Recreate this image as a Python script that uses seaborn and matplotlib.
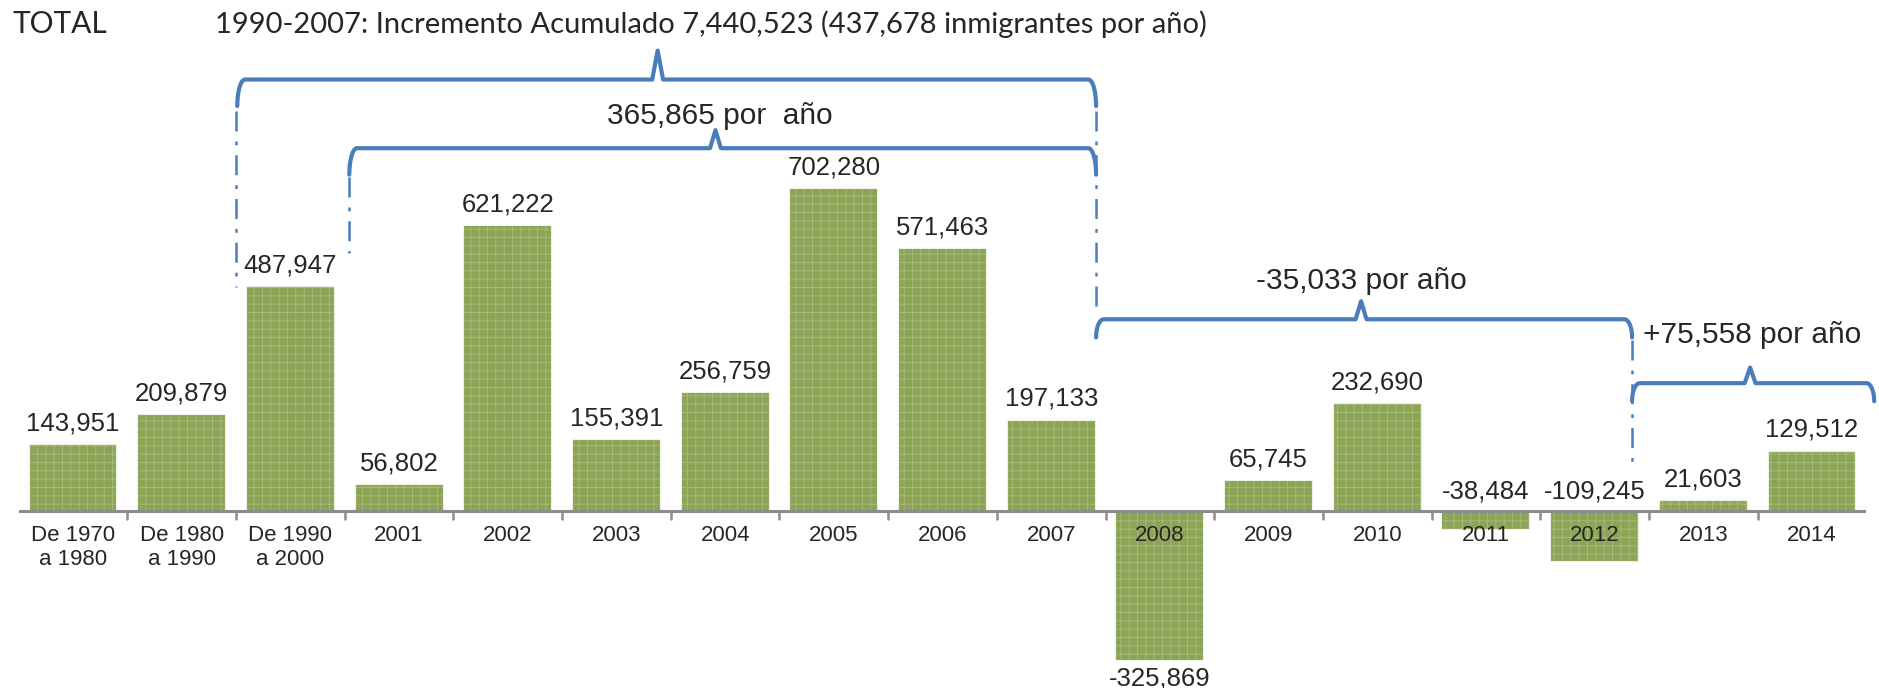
import numpy as np
import pandas as pd
import matplotlib.pyplot as plt
import seaborn as sns

# datos
categorias = ['De 1970\na 1980', 'De 1980\na 1990', 'De 1990\na 2000', '2001', '2002', '2003',
              '2004', '2005', '2006', '2007', '2008', '2009', '2010', '2011', '2012', '2013', '2014']
valores = [143951, 209879, 487947, 56802, 621222, 155391, 256759, 702280, 571463, 197133,
           -325869, 65745, 232690, -38484, -109245, 21603, 129512]

titulo_izq = 'TOTAL'
titulo = '1990-2007: Incremento Acumulado 7,440,523 (437,678 inmigrantes por año)'
etiquetas_llaves = ['365,865 por  año', '-35,033 por año', '+75,558 por año']

sns.set_style('white')
plt.rcParams['font.family'] = ['Liberation Sans', 'DejaVu Sans']
plt.rcParams['hatch.linewidth'] = 0.6

# coordenadas de referencia en un marco de 1560 x 571
W, H = 1560, 571
fig = plt.figure(figsize=(18.79, 6.88), dpi=100)
left_px, width_px = 15.5, 1534
ax = fig.add_axes([left_px / W, 0, width_px / W, 1])

UPX = 2630  # unidades por pixel
def ypx(py):
    return (424 - py) * UPX
def xpx(px):
    return (px - left_px) / (width_px / 17) - 0.5

df = pd.DataFrame({'cat': categorias, 'val': valores})
sns.barplot(data=df, x='cat', y='val', color='#8da356', saturation=1, width=0.8, ax=ax)
for p in ax.patches:
    p.set_hatch('++')
    p.set_edgecolor('#a8bd7c')
    p.set_linewidth(0.3)

ax.set_xlim(-0.5, 16.5)
ax.set_ylim(ypx(H), ypx(0))
ax.axhline(0, color='#8c8c8c', lw=2.2, zorder=3)
for s in ax.spines.values():
    s.set_visible(False)
ax.set_yticks([])
ax.set_xlabel('')
ax.set_ylabel('')
ax.set_xticks([])
for i, c in enumerate(categorias):
    ax.text(i, ypx(436), c, ha='center', va='top', fontsize=16, linespacing=1.15)
for i in range(1, 17):
    ax.plot([i - 0.5, i - 0.5], [0, ypx(431)], color='#8c8c8c', lw=1.8)

# etiquetas de valor
for i, v in enumerate(valores):
    lab = f'{v:,}'
    if v >= 0:
        ax.text(i, v + 8 * UPX, lab, ha='center', va='bottom', fontsize=18.5)
    elif i == 10:
        ax.text(i, v - 5 * UPX, lab, ha='center', va='top', fontsize=18.5)
    else:
        ax.text(i, 6 * UPX, lab, ha='center', va='bottom', fontsize=18.5)

azul = '#4a7ebb'

def llave(x0, x1, xm, y, drop, peak):
    # llave horizontal con puntas redondeadas
    r = 0.07
    t = np.linspace(0, np.pi / 2, 10)
    xl = x0 + r * (1 - np.cos(t))
    yl = y - drop + drop * np.sin(t)
    xr = x1 - r * (1 - np.cos(t[::-1]))
    yr = y - drop + drop * np.sin(t[::-1])
    xs = np.concatenate([xl, [xm - 0.05, xm, xm + 0.05], xr])
    ys = np.concatenate([yl, [y, y + peak, y], yr])
    ax.plot(xs, ys, color=azul, lw=3, solid_capstyle='round', solid_joinstyle='round',
            clip_on=False)

def punteada(x, y0, y1):
    ax.plot([x, x], [y0, y1], color=azul, lw=1.8, linestyle=(0, (8, 4, 1.5, 4)))

# llave 1990-2007
llave(xpx(197), xpx(910), xpx(546), ypx(66), 22 * UPX, 24 * UPX)
punteada(xpx(196), ypx(92), ypx(238))
punteada(xpx(910), ypx(92), ypx(262))
# llave 2001-2007
llave(xpx(290), xpx(910), xpx(594), ypx(123), 22 * UPX, 15 * UPX)
punteada(xpx(290), ypx(147), ypx(210))
ax.text(xpx(598), ypx(108), etiquetas_llaves[0], ha='center', va='bottom', fontsize=21.5)
# llave 2008-2012
llave(xpx(910), xpx(1355), xpx(1130), ypx(265), 15 * UPX, 15 * UPX)
punteada(xpx(1355), ypx(282), ypx(385))
ax.text(xpx(1130), ypx(245), etiquetas_llaves[1], ha='center', va='bottom', fontsize=21.5)
# llave 2012-2014
llave(xpx(1355), xpx(1556), xpx(1453), ypx(318), 15 * UPX, 13 * UPX)
ax.text(xpx(1455), ypx(290), etiquetas_llaves[2], ha='center', va='bottom', fontsize=21.5)

fig.text(10 / W, 1 - 20 / H, titulo_izq, ha='left', va='center', fontsize=21.5, family='Lato')
fig.text(590 / W, 1 - 20 / H, titulo, ha='center', va='center', fontsize=21, family='Lato')

fig.savefig('out.png', dpi=100)
